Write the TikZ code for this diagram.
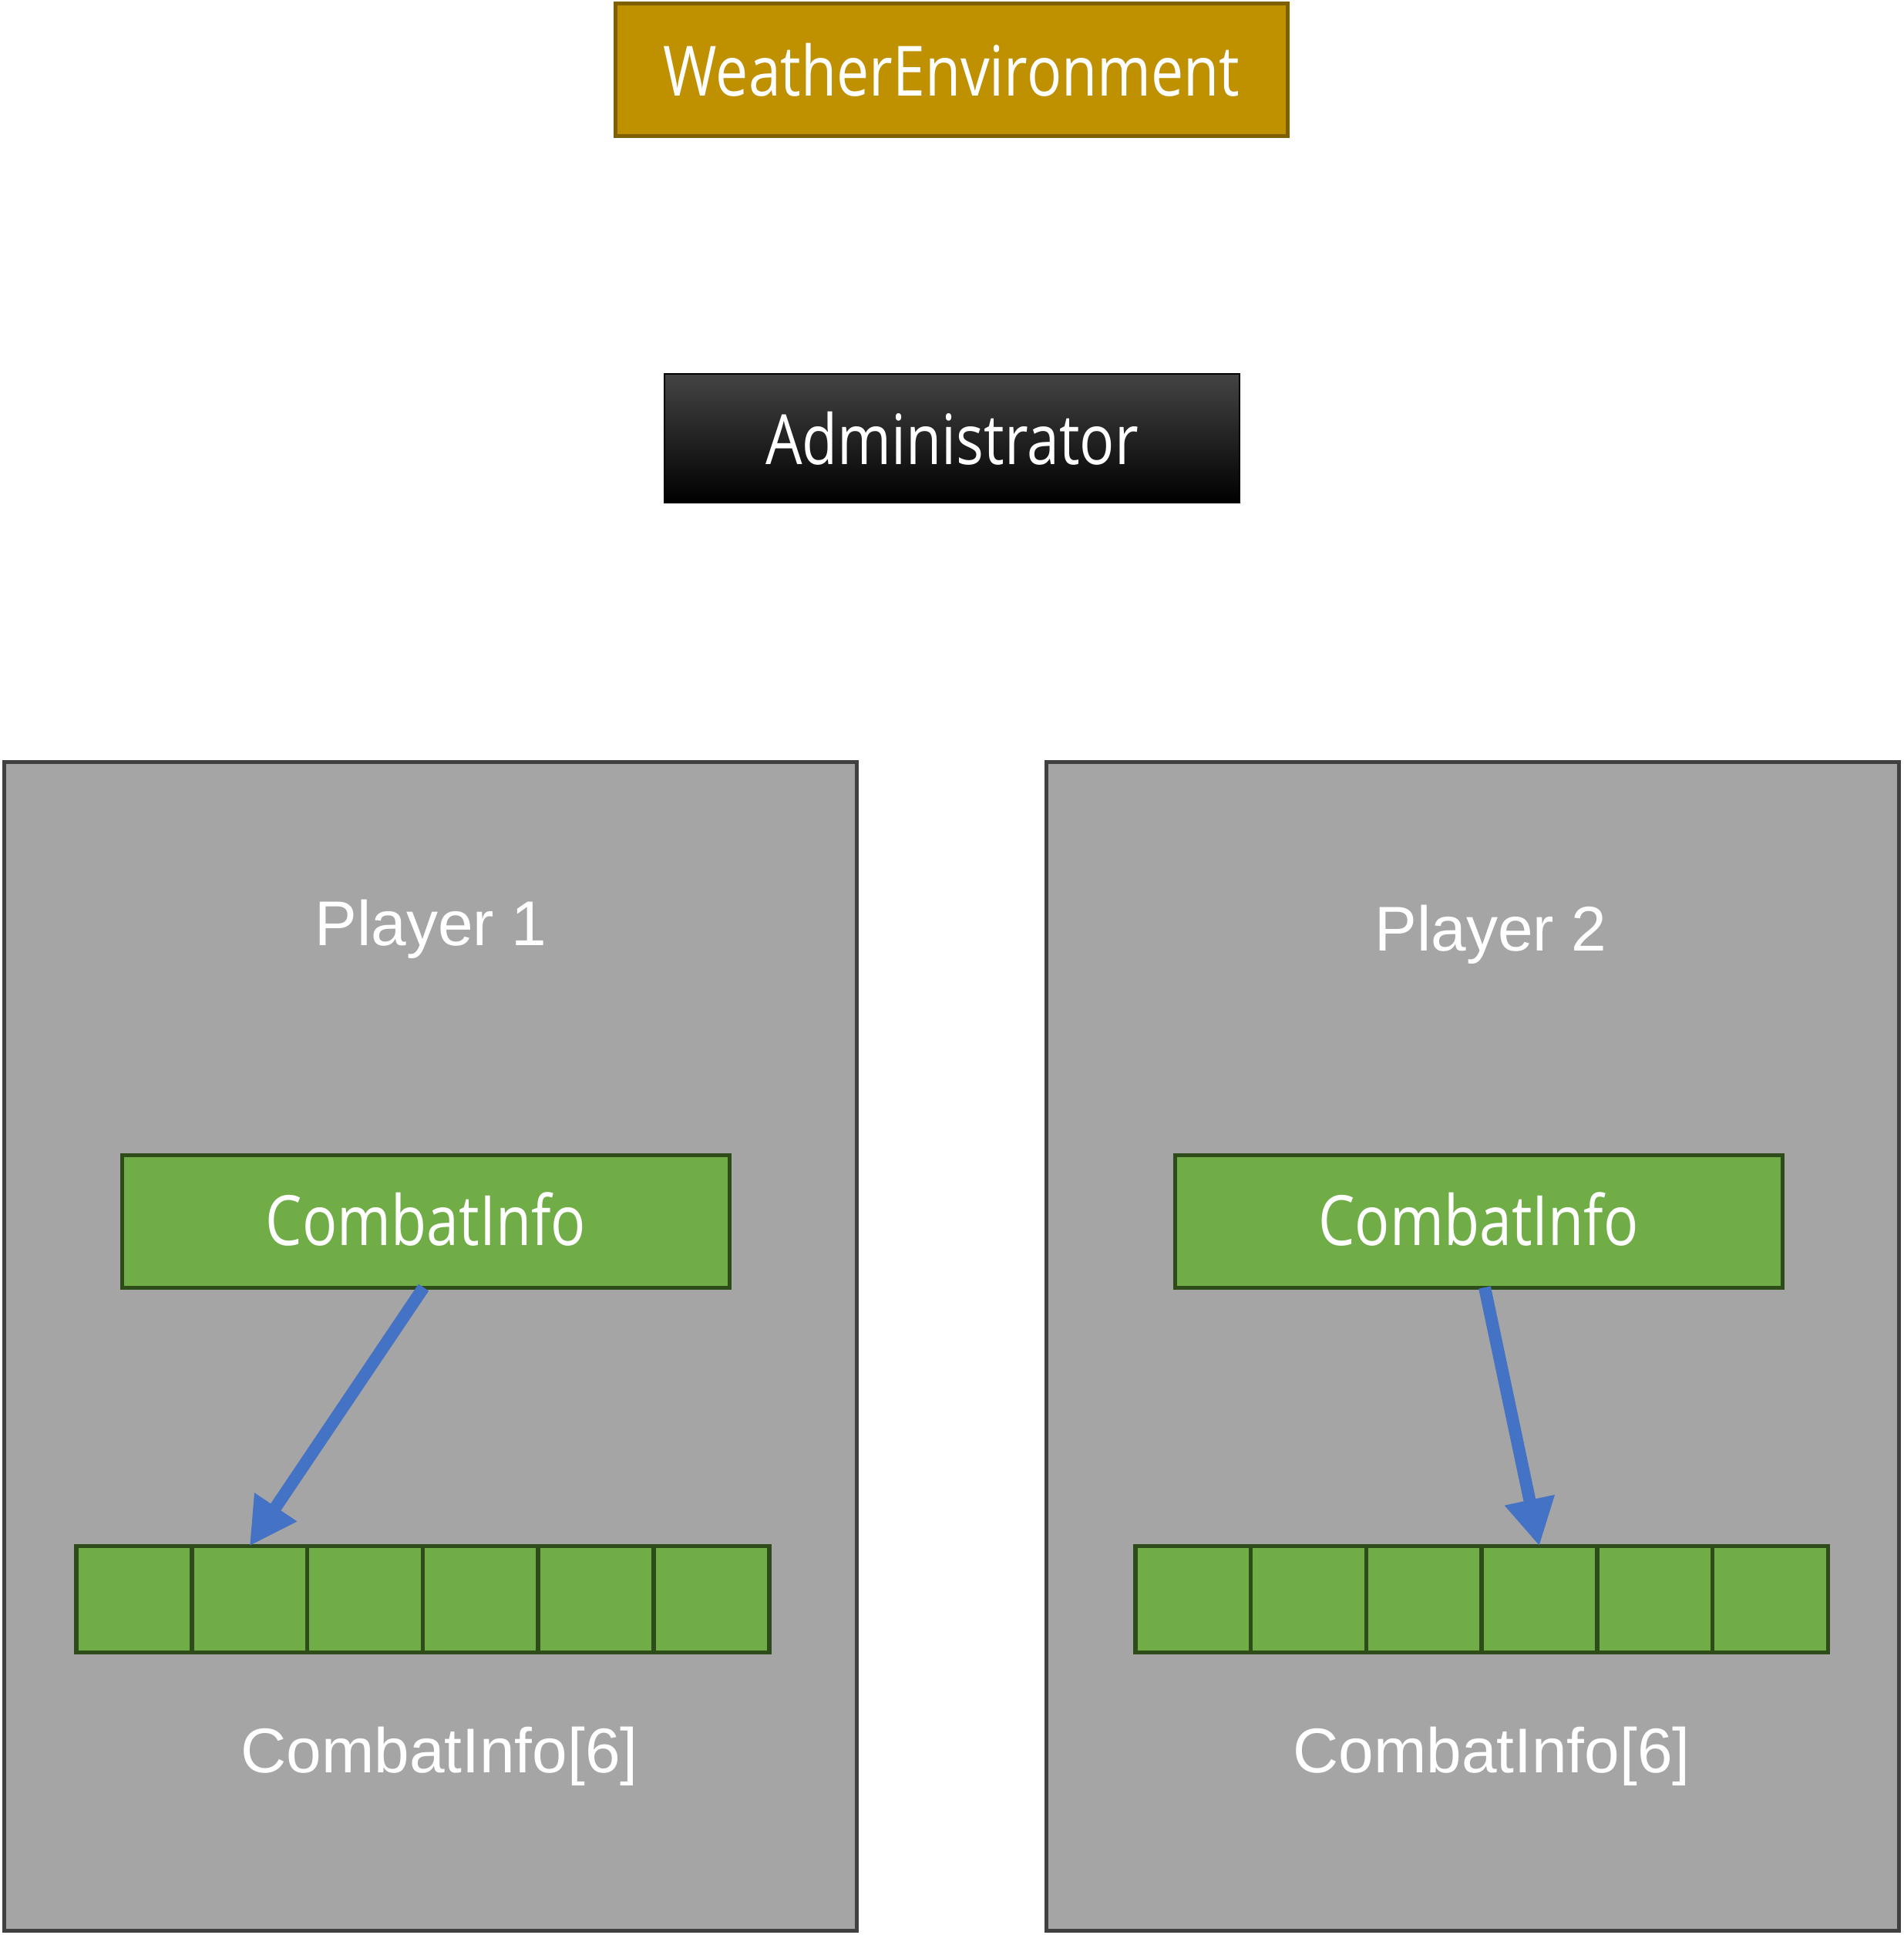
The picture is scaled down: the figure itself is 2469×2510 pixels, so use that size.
\documentclass[tikz,border=0pt]{standalone}
\usepackage{fontspec}
\setmainfont{Liberation Sans}
\newfontfamily\yh[FakeStretch=0.835]{Open Sans}
\usetikzlibrary{arrows.meta,calc}
\definecolor{goldfill}{HTML}{BF9000}
\definecolor{golddraw}{HTML}{7F6000}
\definecolor{playerfill}{HTML}{A5A5A5}
\definecolor{playerdraw}{HTML}{404040}
\definecolor{greenfill}{HTML}{70AD47}
\definecolor{greendraw}{HTML}{2E4B1A}
\definecolor{arrowblue}{HTML}{4472C4}
\definecolor{admintop}{HTML}{444444}
\tikzset{
  boxbase/.style={rectangle, inner sep=0pt, outer sep=0pt},
  weatherbox/.style={boxbase, fill=goldfill, draw=golddraw, line width=5pt, minimum width=872pt, minimum height=172pt},
  adminbox/.style={boxbase, top color=admintop, middle color=black, bottom color=black, draw=black, line width=2pt, minimum width=746pt, minimum height=167pt},
  playerbox/.style={boxbase, fill=playerfill, draw=playerdraw, line width=5pt, minimum width=1106pt, minimum height=1516pt},
  infobox/.style={boxbase, fill=greenfill, draw=greendraw, line width=5pt, minimum width=788pt, minimum height=172pt},
  cellbox/.style={boxbase, fill=greenfill, draw=greendraw, line width=5.5pt, minimum width=149.8pt, minimum height=138pt},
  yhtext/.style={text=white, font=\yh\fontsize{90}{100}\selectfont, anchor=base},
  ptext/.style={text=white, font=\fontsize{82}{98}\selectfont, anchor=base},
  linkarrow/.style={draw=arrowblue, line width=16pt, -{Triangle[length=61pt,width=62pt]}}
}
\begin{document}
\begin{tikzpicture}[x=1pt,y=-1pt]
\useasboundingbox[fill=white] (0,0) rectangle (2469,2510);
% top boxes
\node[weatherbox] (weather) at (1234.5,90.5) {};
\node[yhtext] (weathertxt) at (1234.5,125) {WeatherEnvironment};
\node[adminbox] (admin) at (1235,568.5) {};
\node[yhtext] (admintxt) at (1235,602) {Administrator};
% player boxes
\node[playerbox] (p1) at (558,1746) {};
\node[playerbox] (p2) at (1910.5,1746) {};
\node[ptext] (p1title) at (559,1226) {Player 1};
\node[ptext] (p2title) at (1934,1233) {Player 2};
% combat info boxes
\node[infobox] (ci1) at (552.5,1584) {};
\node[yhtext] (ci1txt) at (552.5,1615) {CombatInfo};
\node[infobox] (ci2) at (1918,1584) {};
\node[yhtext] (ci2txt) at (1918,1615) {CombatInfo};
% arrays
\foreach \i in {1,...,6} {
  \node[cellbox] (a\i) at ({99+149.8*(\i-0.5)},2074.5) {};
  \node[cellbox] (b\i) at ({1473+149.7*(\i-0.5)},2074.5) {};
}
\node[ptext] (arr1txt) at (570,2299) {CombatInfo[6]};
\node[ptext] (arr2txt) at (1935,2299) {CombatInfo[6]};
% arrows
\draw[linkarrow] ($(ci1.south)+(-3,0)$) -- (a2.north);
\draw[linkarrow] ($(ci2.south)+(8,0)$) -- (b4.north);
\end{tikzpicture}
\end{document}
